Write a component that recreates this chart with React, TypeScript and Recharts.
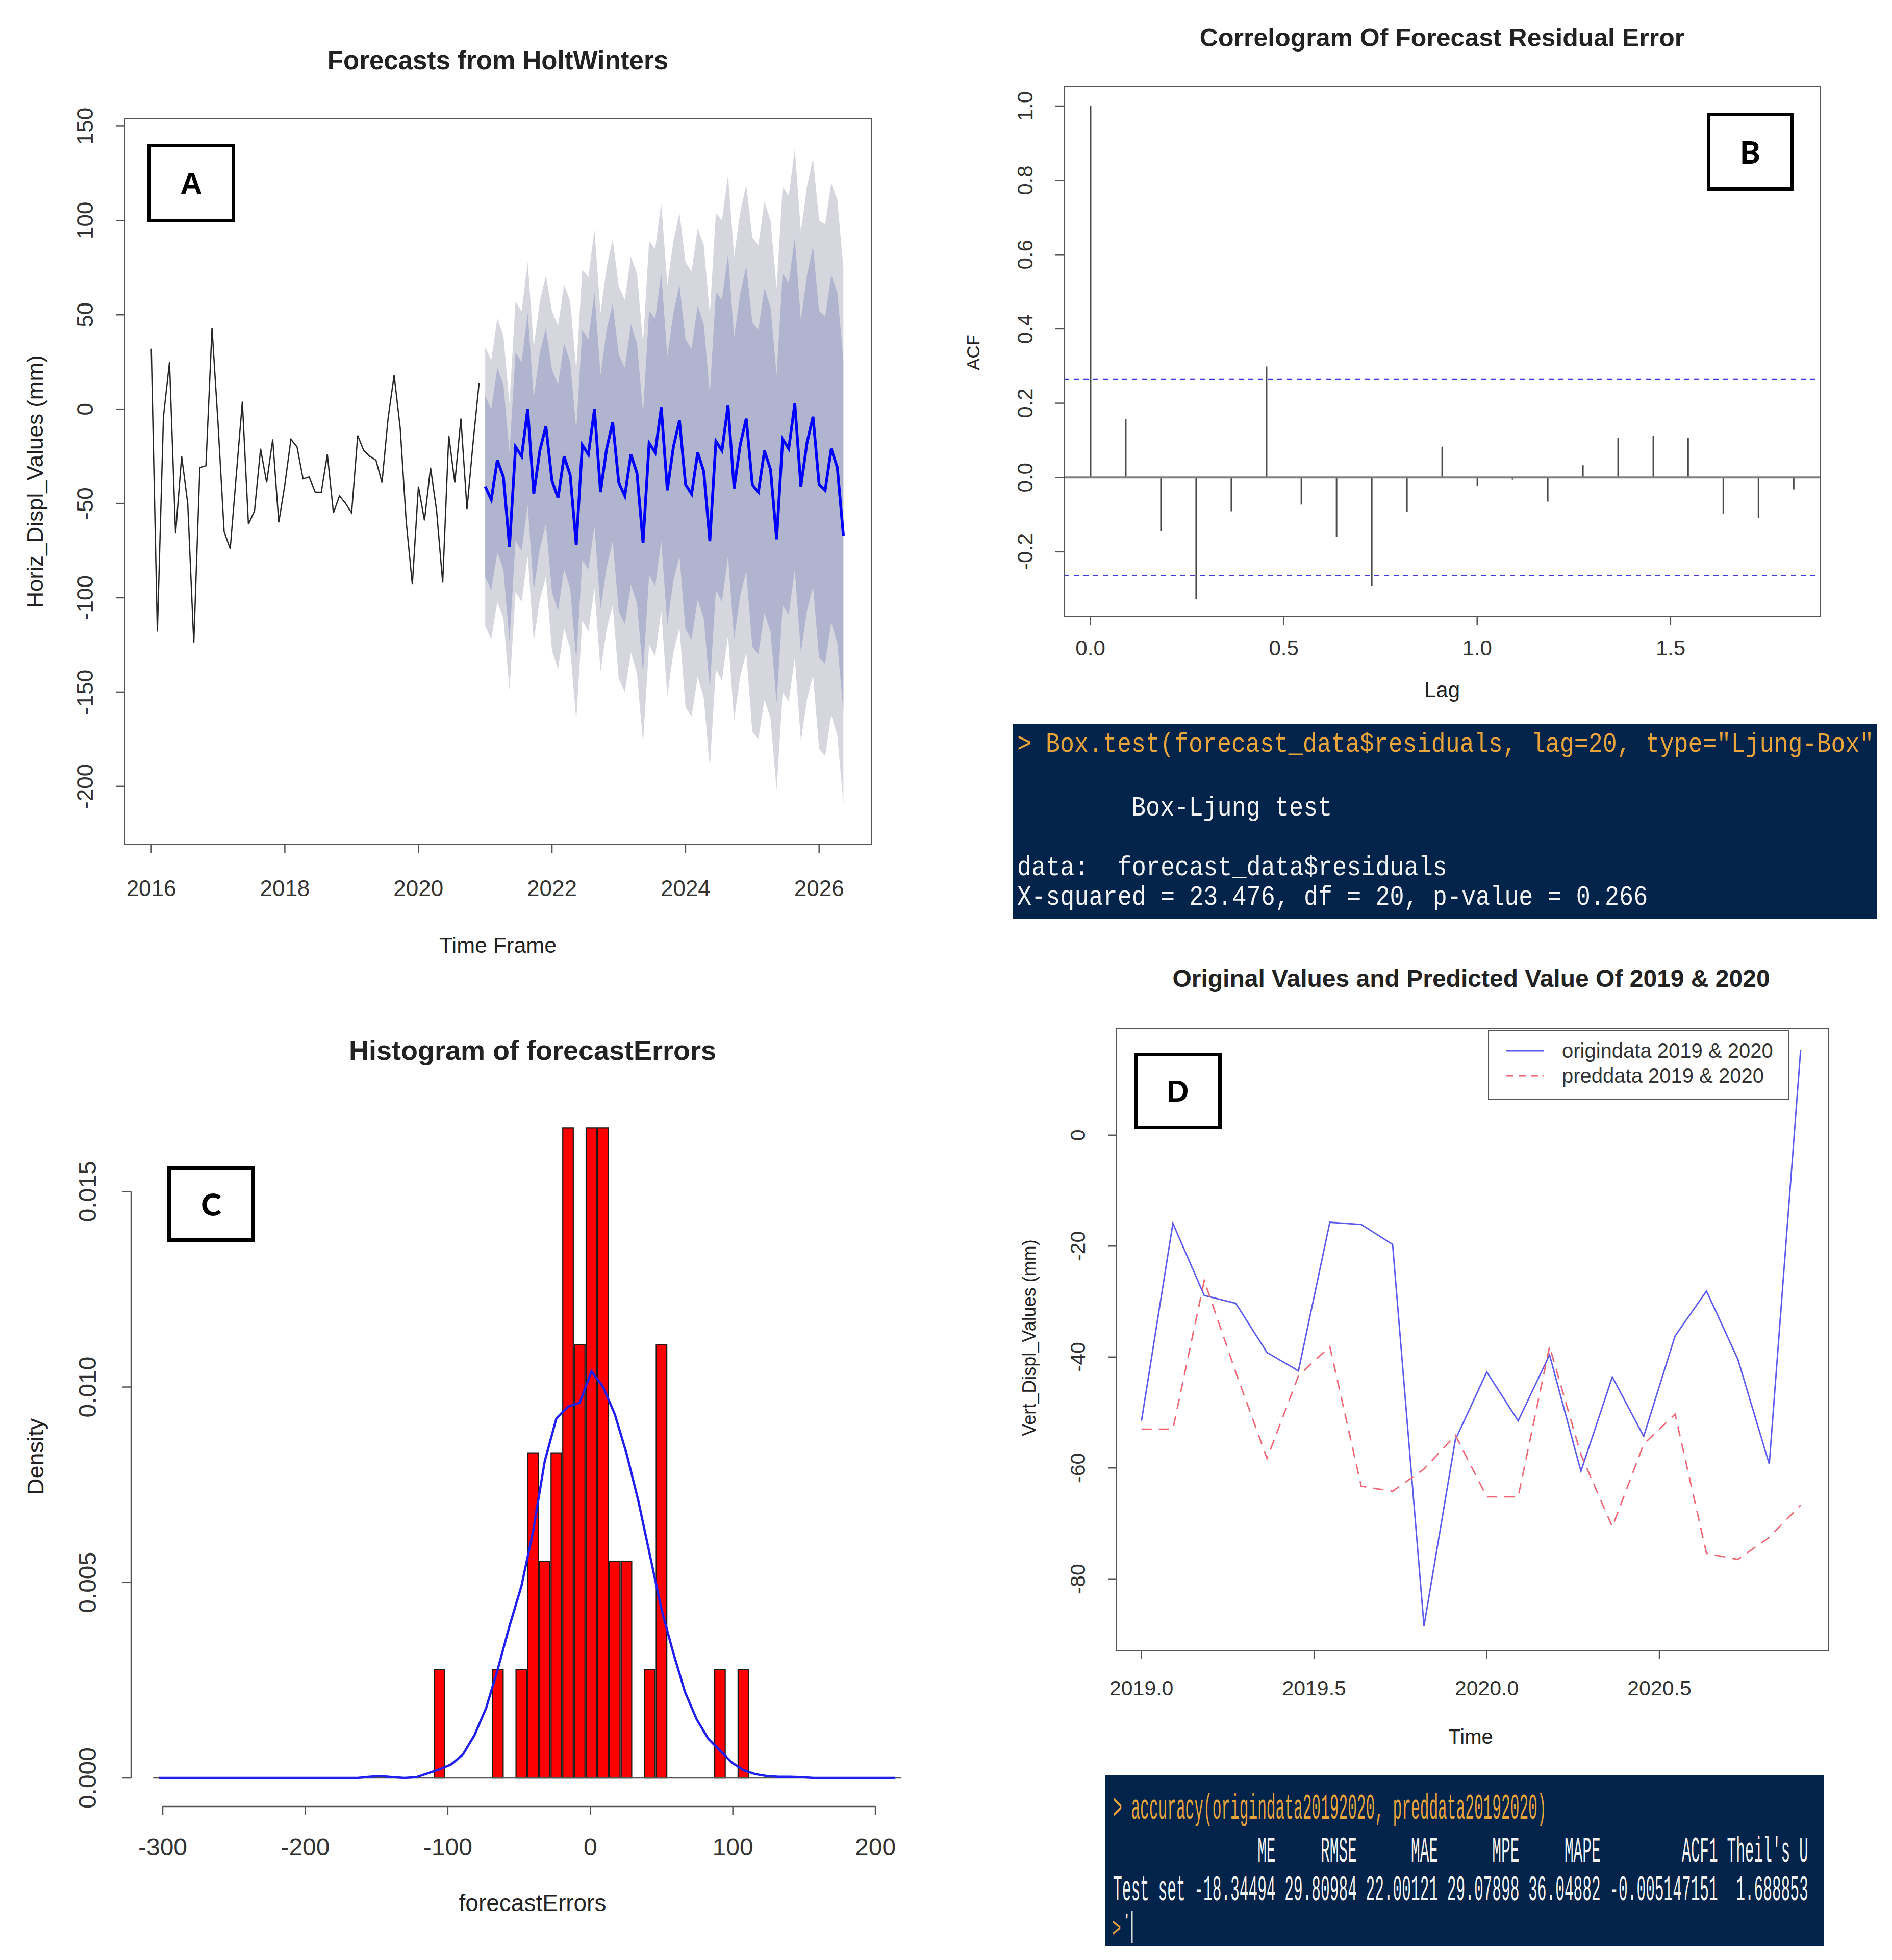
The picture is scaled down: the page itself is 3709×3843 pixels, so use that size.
import React from 'react'
import { ComposedChart, Line, Area, Bar, XAxis, YAxis, ReferenceLine } from 'recharts'

const SANS = '"Liberation Sans", Arial, sans-serif'
const MONO = '"Liberation Mono", "DejaVu Sans Mono", monospace'

// ---------- A: Forecasts from HoltWinters (11 obs per year) ----------
const freqA = 11
const histStart = 2016
const histValues = [
  32, -118, -4, 25, -66, -25, -50, -124, -31, -30, 43,
  -8, -65, -74, -35, 4, -61, -54, -21, -39, -16, -60,
  -40, -16, -20, -37, -36, -44, -44, -24, -55, -46, -50,
  -55, -14, -22, -25, -27, -39, -5, 18, -10, -60, -93,
  -41, -59, -31, -54, -92, -14, -39, -5, -53, -18, 14,
]
const fcStart = 2021
const fcValues = [
  -41, -48, -27, -36, -73, -20, -25, 0, -45, -22, -9,
  -38, -47, -25, -35, -72, -19, -24, 0, -44, -21, -7,
  -39, -46, -24, -34, -71, -18, -23, 1, -43, -20, -6,
  -40, -45, -23, -33, -70, -17, -22, 2, -42, -19, -5,
  -40, -44, -22, -32, -69, -16, -21, 3, -41, -18, -4,
  -40, -43, -21, -31, -67,
]
// half widths of the 80% and 95% prediction intervals
const hw80 = [
  48, 48, 49, 49, 50, 50, 50, 51, 51, 52, 52,
  59, 60, 60, 60, 61, 61, 61, 62, 62, 63, 63,
  68, 68, 69, 69, 69, 70, 71, 71, 71, 71, 72,
  77, 77, 78, 78, 78, 79, 80, 80, 80, 80, 81,
  86, 86, 86, 86, 87, 88, 88, 88, 88, 89, 90,
  92, 92, 92, 93, 93,
]
const hw95 = [
  74, 74, 75, 75, 76, 77, 77, 78, 78, 79, 80,
  90, 91, 91, 92, 93, 93, 94, 95, 95, 96, 97,
  104, 104, 105, 106, 106, 107, 108, 108, 109, 109, 110,
  118, 118, 119, 120, 120, 121, 122, 122, 123, 123, 124,
  131, 131, 132, 132, 133, 134, 134, 135, 135, 136, 137,
  140, 141, 141, 142, 142,
]
const ticksAX = [2016, 2018, 2020, 2022, 2024, 2026]
const ticksAY = [-200, -150, -100, -50, 0, 50, 100, 150]

// ---------- B: correlogram ----------
const acfLags = [0, 0.091, 0.182, 0.273, 0.364, 0.455, 0.545, 0.636, 0.727, 0.818, 0.909, 1.0, 1.091, 1.182, 1.273, 1.364, 1.455, 1.545, 1.636, 1.727, 1.818]
const acfValues = [1.0, 0.157, -0.144, -0.327, -0.091, 0.299, -0.073, -0.159, -0.292, -0.093, 0.083, -0.022, -0.006, -0.065, 0.033, 0.107, 0.112, 0.107, -0.097, -0.109, -0.032]
const acfBound = 0.264
const ticksBX = [0, 0.5, 1, 1.5]
const ticksBY = [-0.2, 0, 0.2, 0.4, 0.6, 0.8, 1]

// ---------- C: histogram of forecast errors ----------
const binStart = -306.7
const binWidth = 8.2
const nErrors = 44
const binCounts = [
  0, 0, 0, 0, 0, 0, 0, 0, 0, 0,
  0, 0, 0, 0, 0, 0, 0, 0, 0, 0,
  0, 0, 0, 0, 1, 0, 0, 0, 0, 1,
  0, 1, 3, 2, 3, 6, 4, 6, 6, 2,
  2, 0, 1, 4, 0, 0, 0, 0, 1, 0,
  1, 0, 0, 0, 0, 0, 0, 0, 0, 0,
  0, 0, 0, 0,
]
const normCurve = [
  0, 0, 0, 0, 0, 0, 0, 0, 0, 0,
  0, 0, 0, 0, 0, 0, 0, 0, 0.00003, 0.00005,
  0.00002, 0, 0.00002, 0.00012, 0.00022, 0.00035, 0.0006, 0.0011, 0.0018, 0.0028,
  0.0039, 0.0049, 0.0063, 0.0081, 0.0092, 0.0095, 0.0096, 0.0104, 0.01, 0.0093,
  0.0083, 0.0071, 0.0057, 0.0043, 0.0032, 0.0022, 0.0015, 0.001, 0.0007, 0.0004,
  0.0002, 0.0001, 0.00005, 0.00003, 0.00003, 0.00002, 0, 0, 0, 0,
  0, 0, 0, 0,
]
const ticksCX = [-300, -200, -100, 0, 100, 200]
const ticksCY = [0, 0.005, 0.01, 0.015]

// ---------- D: original vs predicted 2019 & 2020 ----------
const dStart = 2019
const dFreq = 11
const origindata = [-51.5, -15.9, -28.9, -30.3, -39.2, -42.5, -15.7, -16.1, -19.7, -88.5, -54.9, -42.7, -51.5, -39.6, -60.6, -43.6, -54.3, -36.2, -28.1, -40.4, -59.3, 15.4]
const preddata = [-53, -53, -26.2, -42.7, -58.3, -43.4, -38.1, -63.3, -64.2, -60.2, -54.1, -65.2, -65.2, -38.1, -57.6, -70.6, -55.7, -50.3, -75.4, -76.5, -72.5, -66.7]
const ticksDX = [2019, 2019.5, 2020, 2020.5]
const ticksDY = [-80, -60, -40, -20, 0]

// ---------- tables ----------
const dataA = [
  ...histValues.map((v, i) => ({ t: histStart + i / freqA, hist: v })),
  ...fcValues.map((v, i) => ({
    t: fcStart + i / freqA,
    fc: v,
    b80: [v - hw80[i], v + hw80[i]],
    b95: [v - hw95[i], v + hw95[i]],
  })),
]
const dataB = acfLags.map((lag, i) => ({ lag, acf: acfValues[i] }))
const dataC = binCounts.map((c, i) => ({
  mid: binStart + binWidth * (i + 0.5),
  dens: c / (nErrors * binWidth),
  curve: normCurve[i],
}))
const dataD = origindata.map((v, i) => ({ t: dStart + i / dFreq, origin: v, pred: preddata[i] }))

// plot areas in page pixels
const PA = { L: 245, T: 233, R: 1709, B: 1655 }
const PB = { L: 2086, T: 169, R: 3569, B: 1209 }
const PC = { L: 257, T: 2160, R: 1827, B: 3542 }
const PD = { L: 2189, T: 2017, R: 3584, B: 3236 }
const YW = 180
const XH = 160
const MT = 60

const domAX = [2015.606, 2026.789]
const domAY = [-230.6, 153.9]
const domBX = [-0.068, 1.888]
const domBY = [-0.3746, 1.0536]
const domCX = [-322.2, 239.7]
const domCY = [-0.00073, 0.0173]
const domDX = [2018.928, 2020.989]
const domDY = [-92.9, 19.2]

const axisCommon = {
  type: 'number' as const,
  axisLine: false,
  tickLine: { stroke: '#555', strokeWidth: 2.5 },
  tickSize: 17,
  interval: 0 as const,
  allowDataOverflow: true,
}

const yTick = (off: number, size: number, fmt: (v: number) => string) => (props: any) => {
  const x = YW - off
  return (
    <text x={x} y={props.y} transform={`rotate(-90 ${x} ${props.y})`} textAnchor="middle"
      dominantBaseline="central" fontSize={size} fontFamily={SANS} fill="#333">
      {fmt(props.payload.value)}
    </text>
  )
}
const xTick = (plotH: number, off: number, size: number, fmt: (v: number) => string) => (props: any) => (
  <text x={props.x} y={MT + plotH + off} textAnchor="middle" dominantBaseline="central"
    fontSize={size} fontFamily={SANS} fill="#333">
    {fmt(props.payload.value)}
  </text>
)

const Txt = ({ x, y, size, bold, rot, children }: any) => (
  <div style={{
    position: 'absolute', left: x, top: y, fontSize: size, fontWeight: bold ? 700 : 400,
    fontFamily: SANS, color: '#222', whiteSpace: 'nowrap', lineHeight: 1,
    transform: `translate(-50%, -50%)${rot ? ' rotate(-90deg)' : ''}`,
  }}>{children}</div>
)

const Frame = ({ p }: any) => (
  <div style={{
    position: 'absolute', left: p.L - 1.25, top: p.T - 1.25, width: p.R - p.L + 2.5,
    height: p.B - p.T + 2.5, border: '2.5px solid #555', boxSizing: 'border-box',
  }} />
)

const Tag = ({ x, y, w, h, letter, font }: any) => (
  <div style={{
    position: 'absolute', left: x, top: y, width: w, height: h, border: '7px solid #000',
    boxSizing: 'border-box', background: '#fff', display: 'flex', alignItems: 'center',
    justifyContent: 'center', fontFamily: font, fontWeight: 900, fontSize: 60, color: '#000',
  }}>{letter}</div>
)

// console line: monospace text sized to a character pitch, stretched vertically
const Mono = ({ x, y, pitch, stretch, fill, children }: any) => (
  <text transform={`translate(${x} ${y}) scale(1 ${stretch})`} x={0} y={0} fill={fill}
    fontFamily={MONO} fontSize={pitch / 0.6} xmlSpace="preserve" style={{ whiteSpace: 'pre' }}>
    {children}
  </text>
)

const chartBox = (p: any) => ({ position: 'absolute' as const, left: p.L - YW, top: p.T - MT })
const margin0 = { top: MT, right: 0, bottom: 0, left: 0 }

export default function App() {
  const barC = binWidth * (PC.R - PC.L) / (domCX[1] - domCX[0])
  return (
    <div style={{ position: 'absolute', left: 0, top: 0, width: 3709, height: 3843, background: '#fff', overflow: 'hidden' }}>
      {/* ---------------- A ---------------- */}
      <div style={chartBox(PA)}>
        <ComposedChart width={PA.R - PA.L + YW} height={PA.B - PA.T + XH + MT} data={dataA} margin={margin0}>
          <XAxis {...axisCommon} dataKey="t" domain={domAX} ticks={ticksAX} height={XH}
            tick={xTick(PA.B - PA.T, 86, 44, (v) => String(v))} />
          <YAxis {...axisCommon} domain={domAY} ticks={ticksAY} width={YW}
            tick={yTick(78, 44, (v) => String(v))} />
          <Area dataKey="b95" stroke="none" fill="#d6d6de" fillOpacity={1} isAnimationActive={false} />
          <Area dataKey="b80" stroke="none" fill="#b0b4cf" fillOpacity={1} isAnimationActive={false} />
          <Line dataKey="hist" stroke="#262626" strokeWidth={2.5} dot={false} isAnimationActive={false} />
          <Line dataKey="fc" stroke="#0000ff" strokeWidth={5.5} dot={false} isAnimationActive={false} />
        </ComposedChart>
      </div>
      <Frame p={PA} />
      <Txt x={976} y={118} size={51} bold>Forecasts from HoltWinters</Txt>
      <Txt x={976} y={1853} size={43}>Time Frame</Txt>
      <Txt x={69} y={944} size={44} rot>Horiz_Displ_Values (mm)</Txt>
      <Tag x={289} y={282} w={172} h={154} letter="A" font={SANS} />

      {/* ---------------- B ---------------- */}
      <div style={chartBox(PB)}>
        <ComposedChart width={PB.R - PB.L + YW} height={PB.B - PB.T + XH + MT} data={dataB} margin={margin0}>
          <XAxis {...axisCommon} dataKey="lag" domain={domBX} ticks={ticksBX} height={XH}
            tick={xTick(PB.B - PB.T, 61, 42, (v) => v.toFixed(1))} />
          <YAxis {...axisCommon} domain={domBY} ticks={ticksBY} width={YW}
            tick={yTick(76, 42, (v) => v.toFixed(1))} />
          <ReferenceLine y={0} stroke="#808080" strokeWidth={4} />
          <ReferenceLine y={acfBound} stroke="#3c3cdc" strokeWidth={2.5} strokeDasharray="10 9" />
          <ReferenceLine y={-acfBound} stroke="#3c3cdc" strokeWidth={2.5} strokeDasharray="10 9" />
          <Bar dataKey="acf" barSize={3} fill="#4a4a4a" isAnimationActive={false} />
        </ComposedChart>
      </div>
      <Frame p={PB} />
      <Txt x={2827} y={74} size={50} bold>Correlogram Of Forecast Residual Error</Txt>
      <Txt x={2827} y={1353} size={42}>Lag</Txt>
      <Txt x={1907} y={691} size={35} rot>ACF</Txt>
      <Tag x={3346} y={221} w={170} h={153} letter="B" font="Lato" />

      {/* Box-Ljung console */}
      <div style={{ position: 'absolute', left: 1986, top: 1420 }}>
        <svg width={1694} height={382} style={{ display: 'block' }}>
          <rect x={0} y={0} width={1694} height={382} fill="#02244a" />
          <Mono x={8} y={54} pitch={28} stretch={1.15} fill="#e9a43c">{'> Box.test(forecast_data$residuals, lag=20, type="Ljung-Box"'}</Mono>
          <Mono x={232} y={179} pitch={28.1} stretch={1.15} fill="#f2f2f2">Box-Ljung test</Mono>
          <Mono x={8} y={296} pitch={28.1} stretch={1.15} fill="#f2f2f2">{'data:  forecast_data$residuals'}</Mono>
          <Mono x={8} y={354} pitch={28.1} stretch={1.15} fill="#f2f2f2">X-squared = 23.476, df = 20, p-value = 0.266</Mono>
        </svg>
      </div>

      {/* ---------------- C ---------------- */}
      <div style={chartBox(PC)}>
        <ComposedChart width={PC.R - PC.L + YW} height={PC.B - PC.T + XH + MT} data={dataC} margin={margin0} barCategoryGap={0} barGap={0}>
          <XAxis {...axisCommon} dataKey="mid" domain={domCX} ticks={ticksCX} height={XH}
            tick={xTick(PC.B - PC.T, 79, 48, (v) => String(v))} />
          <YAxis {...axisCommon} domain={domCY} ticks={ticksCY} width={YW}
            tick={yTick(85, 48, (v) => v.toFixed(3))} />
          <ReferenceLine ifOverflow="visible" stroke="#555" strokeWidth={2.5}
            segment={[{ x: domCX[0], y: 0 }, { x: domCX[0], y: 0.015 }]} />
          <ReferenceLine ifOverflow="visible" stroke="#555" strokeWidth={2.5}
            segment={[{ x: -300, y: domCY[0] }, { x: 200, y: domCY[0] }]} />
          <ReferenceLine ifOverflow="visible" stroke="#555" strokeWidth={2.5}
            segment={[{ x: binStart, y: 0 }, { x: binStart + binWidth * binCounts.length, y: 0 }]} />
          <Bar dataKey="dens" barSize={barC} fill="#ff0000" stroke="#1a1a1a" strokeWidth={2.2} isAnimationActive={false} />
          <Line dataKey="curve" stroke="#1f1ff0" strokeWidth={4.5} dot={false} isAnimationActive={false} />
        </ComposedChart>
      </div>
      <Txt x={1044} y={2059} size={54} bold>Histogram of forecastErrors</Txt>
      <Txt x={1044} y={3731} size={46}>forecastErrors</Txt>
      <Txt x={69} y={2856} size={45} rot>Density</Txt>
      <Tag x={328} y={2287} w={172} h={148} letter="C" font="Lato" />

      {/* ---------------- D ---------------- */}
      <div style={chartBox(PD)}>
        <ComposedChart width={PD.R - PD.L + YW} height={PD.B - PD.T + XH + MT} data={dataD} margin={margin0}>
          <XAxis {...axisCommon} dataKey="t" domain={domDX} ticks={ticksDX} height={XH}
            tick={xTick(PD.B - PD.T, 74, 41, (v) => v.toFixed(1))} />
          <YAxis {...axisCommon} domain={domDY} ticks={ticksDY} width={YW}
            tick={yTick(76, 41, (v) => String(v))} />
          <Line dataKey="origin" stroke="#5a5af0" strokeWidth={2.8} dot={false} isAnimationActive={false} />
          <Line dataKey="pred" stroke="#f06473" strokeWidth={2.8} strokeDasharray="20 14" dot={false} isAnimationActive={false} />
        </ComposedChart>
      </div>
      <Frame p={PD} />
      <Txt x={2884} y={1919} size={48} bold>Original Values and Predicted Value Of 2019 &amp; 2020</Txt>
      <Txt x={2883} y={3405} size={40}>Time</Txt>
      <Txt x={2018} y={2623} size={36} rot>Vert_Displ_Values (mm)</Txt>
      <Tag x={2223} y={2064} w={172} h={150} letter="D" font={SANS} />

      {/* legend D */}
      <div style={{ position: 'absolute', left: 2917, top: 2019, width: 590, height: 138, border: '2.5px solid #555', boxSizing: 'border-box', background: '#fff' }}>
        <svg width={585} height={133} style={{ position: 'absolute', left: 0, top: 0 }}>
          <line x1={34} x2={108} y1={39} y2={39} stroke="#5a5af0" strokeWidth={2.8} />
          <line x1={34} x2={108} y1={88} y2={88} stroke="#f06473" strokeWidth={2.8} strokeDasharray="14 10" />
          <text x={143} y={39} dominantBaseline="central" fontFamily={SANS} fontSize={40} fill="#333">origindata 2019 &amp; 2020</text>
          <text x={143} y={88} dominantBaseline="central" fontFamily={SANS} fontSize={40} fill="#333">preddata 2019 &amp; 2020</text>
        </svg>
      </div>

      {/* accuracy console */}
      <div style={{ position: 'absolute', left: 2166, top: 3480 }}>
        <svg width={1410} height={335} style={{ display: 'block' }}>
          <rect x={0} y={0} width={1410} height={335} fill="#02244a" />
          <Mono x={16} y={86} pitch={17.7} stretch={2.4} fill="#e9a43c">{'> accuracy(origindata20192020, preddata20192020)'}</Mono>
          <Mono x={16} y={170} pitch={17.7} stretch={2.4} fill="#f2f2f2">{"                ME     RMSE      MAE      MPE     MAPE         ACF1 Theil's U"}</Mono>
          <Mono x={16} y={246} pitch={17.7} stretch={2.4} fill="#f2f2f2">{'Test set -18.34494 29.80984 22.00121 29.07898 36.04882 -0.005147151  1.688853'}</Mono>
          <Mono x={34} y={294} pitch={17.7} stretch={1} fill="#f2f2f2">'</Mono>
          <Mono x={14} y={318} pitch={17.7} stretch={1.9} fill="#e9a43c">&gt;</Mono>
          <line x1={53} x2={53} y1={266} y2={330} stroke="#d8d8d8" strokeWidth={3} />
        </svg>
      </div>
    </div>
  )
}
